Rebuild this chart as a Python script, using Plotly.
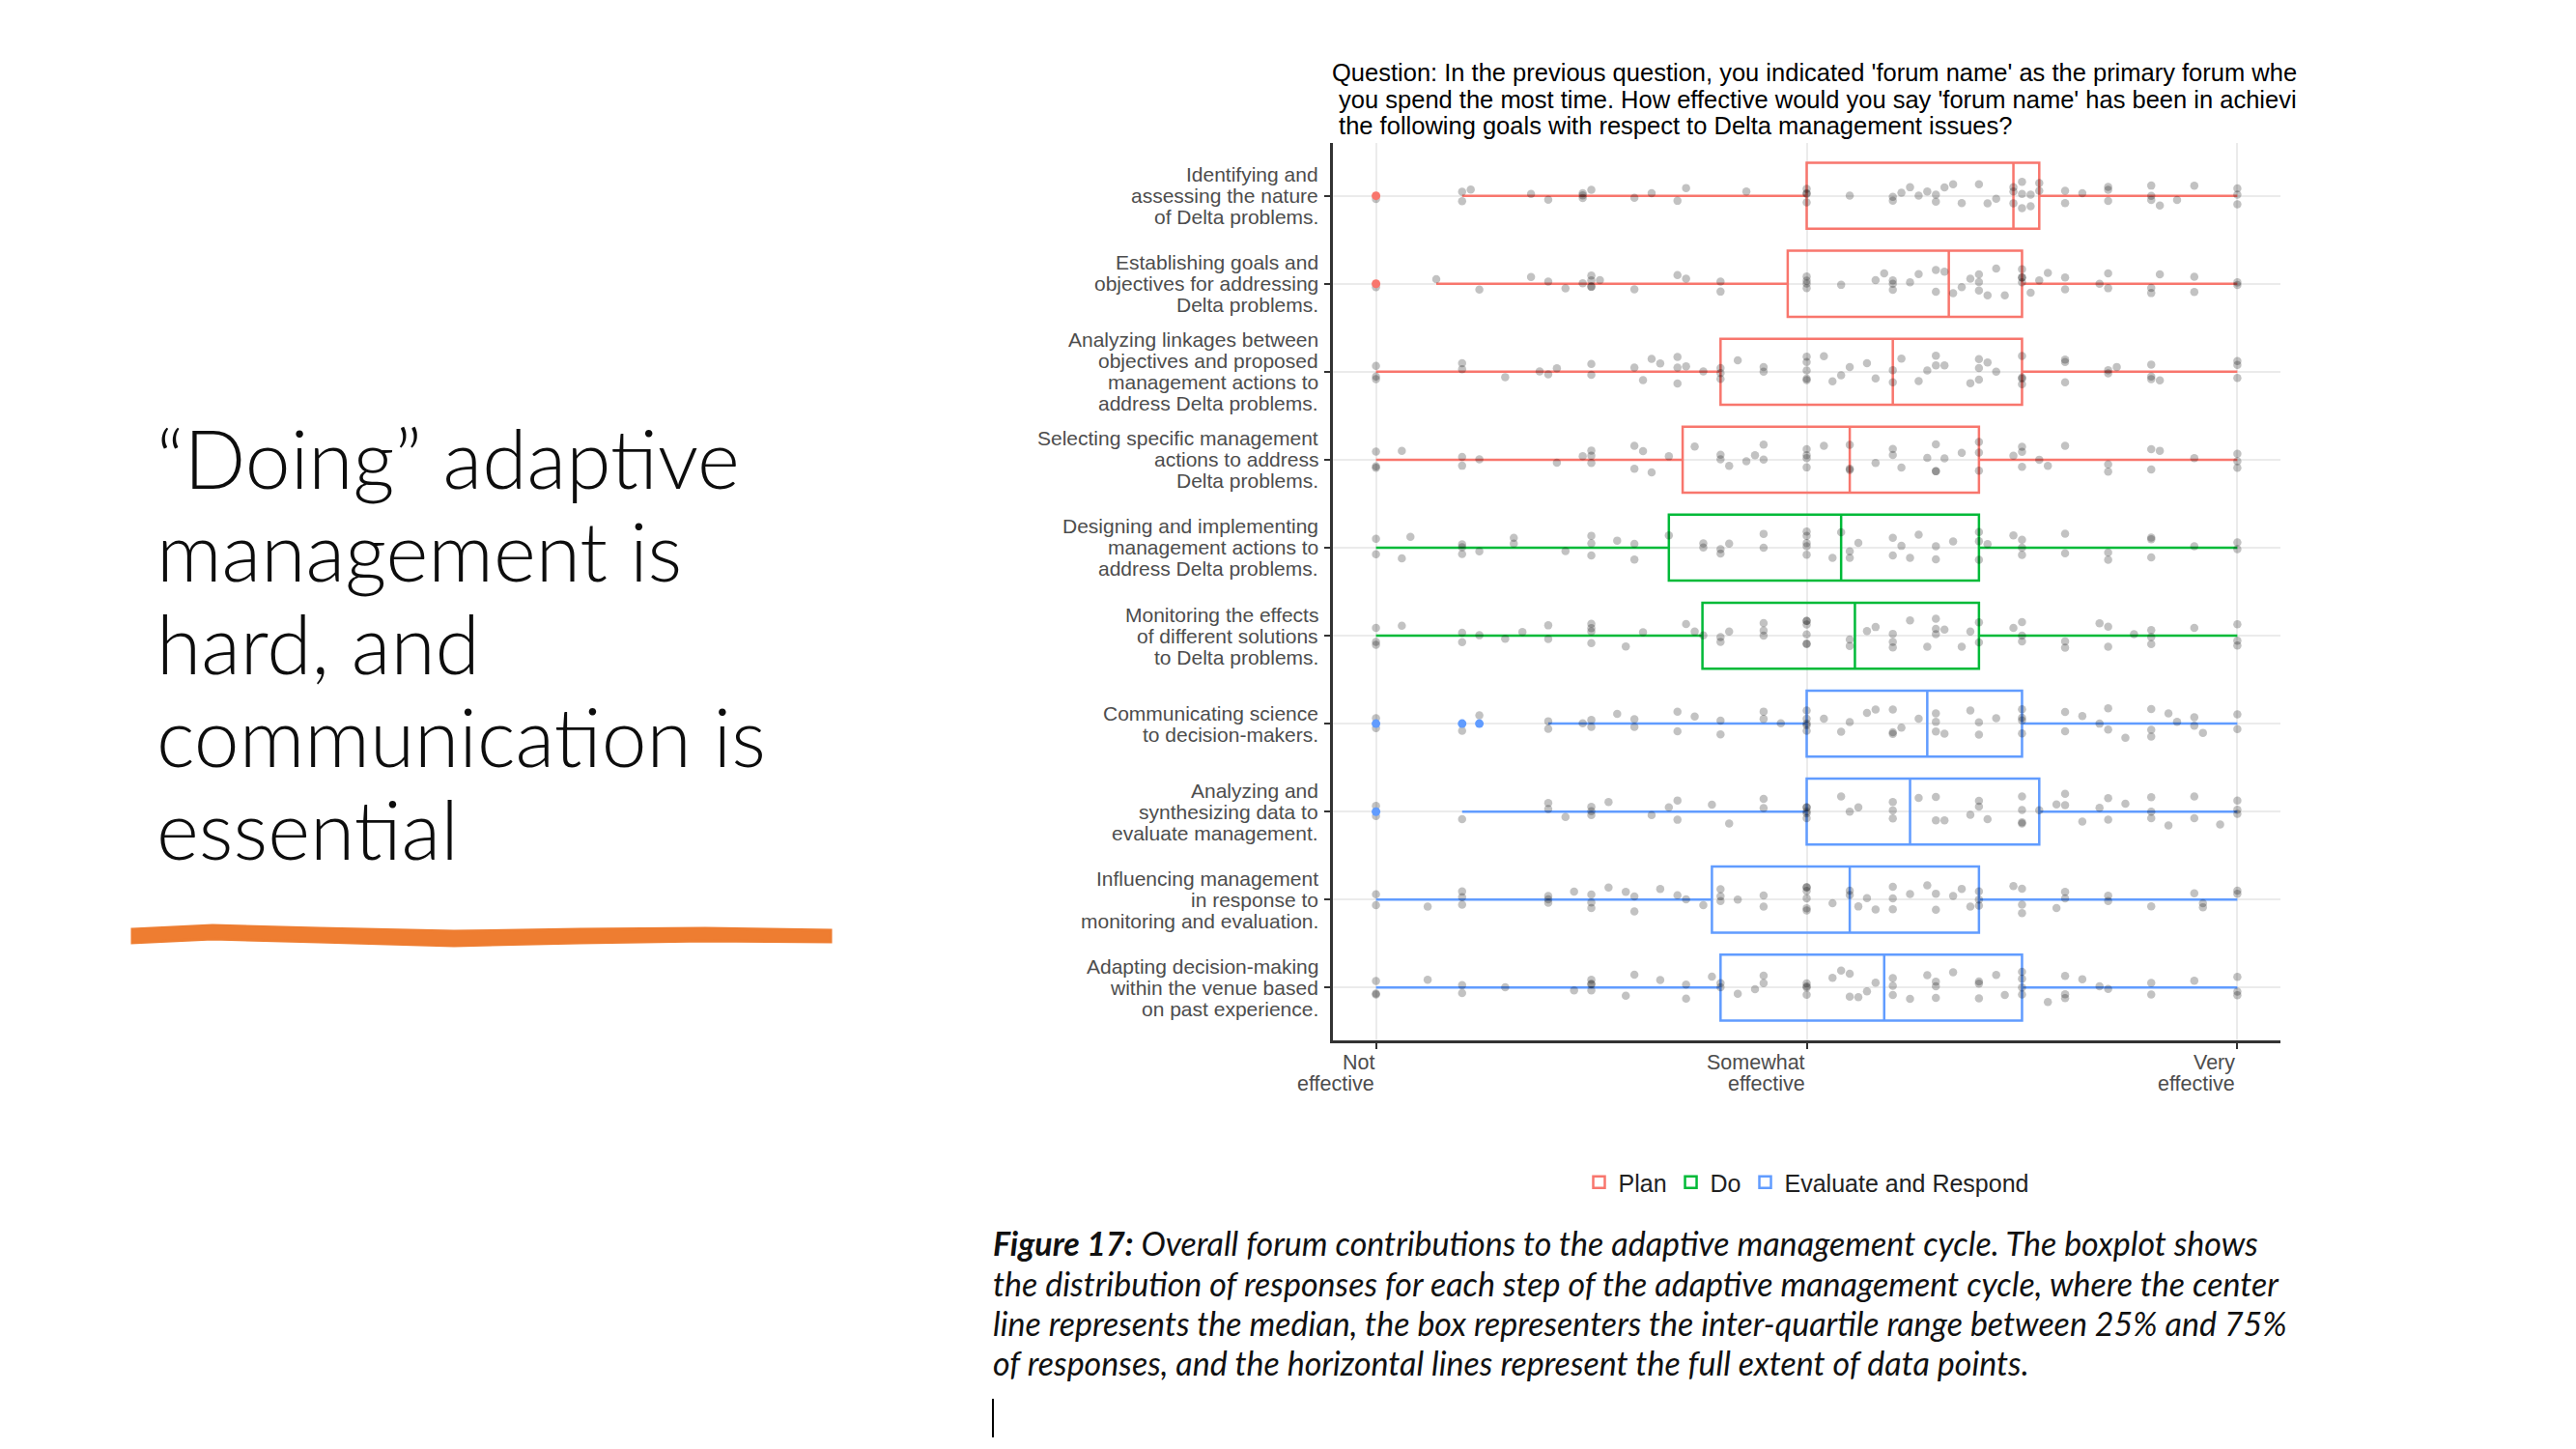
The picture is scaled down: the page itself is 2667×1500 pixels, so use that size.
import plotly.graph_objects as go

# categories, top to bottom
labels = [
    "Identifying and<br>assessing the nature<br>of Delta problems.",
    "Establishing goals and<br>objectives for addressing<br>Delta problems.",
    "Analyzing linkages between<br>objectives and proposed<br>management actions to<br>address Delta problems.",
    "Selecting specific management<br>actions to address<br>Delta problems.",
    "Designing and implementing<br>management actions to<br>address Delta problems.",
    "Monitoring the effects<br>of different solutions<br>to Delta problems.",
    "Communicating science<br>to decision-makers.",
    "Analyzing and<br>synthesizing data to<br>evaluate management.",
    "Influencing management<br>in response to<br>monitoring and evaluation.",
    "Adapting decision-making<br>within the venue based<br>on past experience.",
]
groups = ["Plan"] * 4 + ["Do"] * 2 + ["Evaluate and Respond"] * 4

# box statistics (0 = not effective, 50 = somewhat, 100 = very effective)
q1 = [50, 47.8, 40, 35.6, 34, 37.9, 50, 50, 39, 40]
median = [74, 66.5, 60, 55, 54, 55.6, 64, 62, 55, 59]
q3 = [77, 75, 75, 70, 70, 70, 75, 77, 70, 75]
lowerfence = [10, 7, 0, 0, 0, 0, 20, 10, 0, 0]
upperfence = [100, 100, 100, 100, 100, 100, 100, 100, 100, 100]

# outliers drawn by the boxplot
outlier_rows = [0, 1, 6, 6, 6, 7]
outlier_vals = [0, 0, 0, 10, 12, 0]

# individual responses (jittered points)
resp_identifying = [0, 10, 10, 11, 18, 20, 24, 24, 24, 25, 30, 32, 35, 36, 43, 50, 50, 50, 50, 55,
                    60, 60, 61, 62, 63, 64, 65, 65, 66, 67, 68, 70, 71, 72, 74, 74, 74, 75, 75, 75,
                    76, 76, 77, 77, 80, 80, 82, 85, 85, 85, 90, 90, 90, 91, 93, 95, 100, 100, 100]
resp_establishing = [0, 7, 12, 18, 20, 22, 24, 25, 25, 25, 25, 26, 30, 35, 36, 40, 40, 50, 50, 50,
                     50, 54, 58, 59, 60, 60, 60, 62, 63, 65, 65, 66, 67, 68, 69, 70, 70, 70, 71, 72,
                     73, 75, 75, 75, 75, 76, 77, 78, 80, 80, 84, 85, 85, 90, 90, 91, 95, 95, 100, 100]
resp_linkages = [0, 0, 0, 10, 10, 15, 19, 20, 21, 25, 25, 30, 31, 32, 33, 35, 35, 35, 36, 38,
                 40, 40, 40, 42, 45, 45, 50, 50, 50, 50, 50, 52, 53, 54, 55, 57, 58, 60, 60, 61,
                 63, 64, 65, 65, 66, 69, 70, 70, 70, 71, 72, 75, 75, 75, 75, 80, 80, 80, 85, 85,
                 86, 90, 90, 90, 91, 100, 100, 100]
resp_selecting = [0, 0, 0, 3, 10, 10, 12, 21, 24, 25, 25, 25, 30, 30, 31, 32, 34, 37, 40, 40,
                  41, 43, 44, 45, 45, 50, 50, 50, 50, 52, 55, 55, 55, 58, 60, 60, 61, 64, 65, 65,
                  65, 66, 68, 70, 70, 70, 74, 75, 75, 75, 77, 78, 80, 85, 85, 90, 90, 91, 95, 100,
                  100, 100]
resp_designing = [0, 0, 3, 4, 10, 10, 10, 12, 16, 16, 22, 25, 25, 25, 28, 30, 30, 34, 38, 38,
                  40, 40, 41, 45, 45, 50, 50, 50, 50, 50, 53, 54, 55, 55, 56, 60, 60, 61, 62, 63,
                  65, 65, 67, 70, 70, 70, 71, 74, 75, 75, 75, 80, 80, 85, 85, 90, 90, 90, 95, 100, 100]
resp_monitoring = [0, 0, 0, 3, 10, 10, 12, 15, 17, 20, 20, 25, 25, 25, 25, 29, 31, 36, 37, 38,
                   40, 40, 41, 45, 45, 45, 50, 50, 50, 50, 50, 50, 55, 55, 57, 58, 60, 60, 60, 62,
                   64, 65, 65, 65, 66, 68, 69, 70, 70, 74, 75, 75, 75, 80, 80, 84, 85, 85, 88, 90,
                   90, 90, 95, 100, 100, 100]
resp_communicating = [0, 0, 10, 12, 20, 20, 24, 25, 25, 28, 30, 30, 35, 35, 37, 40, 40, 45, 45, 47,
                      50, 50, 50, 50, 50, 52, 54, 55, 57, 58, 60, 60, 60, 61, 63, 65, 65, 65, 66, 69,
                      70, 70, 72, 75, 75, 75, 75, 80, 80, 82, 84, 85, 85, 87, 90, 90, 90, 92, 93, 95,
                      95, 96, 100, 100]
resp_synthesizing = [0, 0, 10, 20, 20, 22, 25, 25, 25, 27, 32, 34, 35, 35, 39, 41, 45, 45, 50, 50,
                     50, 50, 50, 54, 55, 56, 60, 60, 60, 63, 65, 65, 66, 69, 70, 70, 71, 75, 75, 75,
                     75, 77, 79, 80, 80, 82, 84, 85, 85, 87, 90, 90, 90, 92, 95, 95, 98, 100, 100, 100]
resp_influencing = [0, 0, 6, 10, 10, 10, 20, 20, 20, 23, 25, 25, 25, 27, 29, 30, 30, 33, 35, 36,
                    38, 40, 40, 40, 42, 45, 45, 50, 50, 50, 50, 50, 50, 53, 55, 55, 56, 57, 58, 60,
                    60, 60, 62, 64, 65, 65, 67, 68, 69, 70, 70, 70, 74, 75, 75, 75, 79, 80, 80, 85,
                    85, 90, 95, 96, 96, 100, 100]
resp_adapting = [0, 0, 0, 6, 10, 10, 15, 23, 25, 25, 25, 25, 29, 30, 33, 36, 36, 39, 40, 40,
                 42, 44, 45, 45, 50, 50, 50, 50, 53, 54, 55, 55, 56, 57, 58, 60, 60, 60, 62, 64,
                 65, 65, 65, 67, 70, 70, 70, 72, 73, 75, 75, 75, 75, 78, 80, 80, 80, 82, 84, 85,
                 90, 90, 95, 100, 100, 100]
responses = [resp_identifying, resp_establishing, resp_linkages, resp_selecting, resp_designing,
             resp_monitoring, resp_communicating, resp_synthesizing, resp_influencing, resp_adapting]

x_tickvals = [0, 50, 100]
x_ticklabels = ["Not<br>effective", "Somewhat<br>effective", "Very<br>effective"]

chart_title = [
    "Question: In the previous question, you indicated 'forum name' as the primary forum whe",
    "\u00a0you spend the most time. How effective would you say 'forum name' has been in achievi",
    "\u00a0the following goals with respect to Delta management issues?",
]
slide_title = ["\u201cDoing\u201d adaptive", "management is", "hard, and", "communication is", "essential"]
caption_lines = [
    "<b>Figure 17:</b> Overall forum contributions to the adaptive management cycle. The boxplot shows",
    "the distribution of responses for each step of the adaptive management cycle, where the center",
    "line represents the median, the box representers the inter-quartile range between 25% and 75%",
    "of responses, and the horizontal lines represent the full extent of data points.",
]

colors = {"Plan": "#F8766D", "Do": "#00BA38", "Evaluate and Respond": "#619CFF"}

W, H = 2667, 1500
PL, PR, PT, PB = 1380, 2361, 148, 1077   # plot area in pixels
AXFONT = "Liberation Sans, Arial"


def fx(px):
    return (px - PL) / (PR - PL)


def fy(py):
    return (PB - py) / (PB - PT)


fig = go.Figure()

seen = set()
for i, lab in enumerate(labels):
    g = groups[i]
    fig.add_trace(go.Box(
        orientation="h",
        y=[lab],
        q1=[q1[i]], median=[median[i]], q3=[q3[i]],
        lowerfence=[lowerfence[i]], upperfence=[upperfence[i]],
        width=0.75,
        whiskerwidth=0,
        line=dict(color=colors[g], width=2.5),
        fillcolor="rgba(255,255,255,0)",
        name=g,
        legendgroup=g,
        showlegend=g not in seen,
        hoverinfo="skip",
    ))
    seen.add(g)

# jittered raw responses
for i, lab in enumerate(labels):
    fig.add_trace(go.Box(
        orientation="h",
        x=responses[i],
        y=[lab] * len(responses[i]),
        boxpoints="all",
        jitter=0.55,
        pointpos=0,
        width=0.75,
        line=dict(color="rgba(0,0,0,0)", width=0),
        fillcolor="rgba(0,0,0,0)",
        marker=dict(color="rgba(0,0,0,0.24)", size=8.5),
        showlegend=False,
        hoveron="points",
    ))

# boxplot outliers
fig.add_trace(go.Scatter(
    x=outlier_vals,
    y=[labels[r] for r in outlier_rows],
    mode="markers",
    marker=dict(color=[colors[groups[r]] for r in outlier_rows], size=9),
    showlegend=False,
    hoverinfo="skip",
))

annotations = []
# chart title (clipped as in the source image)
title_y = [75, 103, 130]
for k, line in enumerate(chart_title):
    annotations.append(dict(
        text=line, xref="paper", yref="paper", x=fx(1377), y=fy(title_y[k]),
        xanchor="left", yanchor="middle", showarrow=False,
        font=dict(family=AXFONT, size=25.5, color="#000000"),
    ))

# y tick labels, one annotation per line for ggplot-like line spacing
LS = 22
for lab in labels:
    parts = lab.split("<br>")
    n = len(parts)
    for k, p in enumerate(parts):
        annotations.append(dict(
            text=p, xref="paper", yref="y", x=fx(1367), y=lab,
            yshift=((n - 1) / 2 - k) * LS,
            xanchor="right", yanchor="middle", showarrow=False,
            font=dict(family=AXFONT, size=21, color="#4D4D4D"),
        ))

# x tick labels, right-aligned to the tick
for v, t in zip(x_tickvals, x_ticklabels):
    for k, p in enumerate(t.split("<br>")):
        annotations.append(dict(
            text=p, xref="x", yref="paper", x=v, y=fy(1100 + k * LS),
            xanchor="right", yanchor="middle", showarrow=False,
            font=dict(family=AXFONT, size=21.5, color="#4D4D4D"),
        ))

# slide heading
head_y = [473, 569, 665, 761, 857]
for k, line in enumerate(slide_title):
    annotations.append(dict(
        text=line, xref="paper", yref="paper", x=fx(160), y=fy(head_y[k]),
        xanchor="left", yanchor="middle", showarrow=False,
        font=dict(family="Lato", size=84, color="#0d0d0d", weight=300),
    ))

# figure caption
cap_y = [1286, 1328, 1369, 1410]
for k, line in enumerate(caption_lines):
    annotations.append(dict(
        text=line, xref="paper", yref="paper", x=fx(1026), y=fy(cap_y[k]),
        xanchor="left", yanchor="middle", showarrow=False,
        font=dict(family="Lato", size=34, color="#111111", style="italic"),
    ))

# hand-drawn orange underline
top_edge = [(137, 962), (220, 958), (330, 961), (470, 964), (600, 962), (730, 961), (860, 963)]
bot_edge = [(860, 975), (730, 974), (600, 976), (470, 979), (330, 975), (220, 972), (137, 976)]
pts = top_edge + bot_edge
path = "M " + " L ".join(f"{fx(x):.5f},{fy(y):.5f}" for x, y in pts) + " Z"

shapes = [
    dict(type="path", path=path, xref="paper", yref="paper",
         fillcolor="#EE7D31", line=dict(color="#EE7D31", width=3)),
    # text cursor under the caption
    dict(type="line", xref="paper", yref="paper", x0=fx(1028), x1=fx(1028),
         y0=fy(1448), y1=fy(1488), line=dict(color="#000000", width=2)),
]

fig.update_layout(
    width=W, height=H,
    margin=dict(l=PL, r=W - PR, t=PT, b=H - PB, pad=0),
    paper_bgcolor="white",
    plot_bgcolor="white",
    boxmode="overlay",
    font=dict(family=AXFONT, color="#4D4D4D"),
    xaxis=dict(
        range=[-5, 105], tickvals=x_tickvals, showticklabels=False,
        ticks="outside", ticklen=6, tickwidth=2, tickcolor="#333333",
        showgrid=True, gridcolor="#EBEBEB", gridwidth=1.5, zeroline=False,
        showline=True, linecolor="#333333", linewidth=2.5,
    ),
    yaxis=dict(
        type="category", categoryorder="array", categoryarray=labels,
        range=[len(labels) - 0.4, -0.6], showticklabels=False,
        ticks="outside", ticklen=6, tickwidth=2, tickcolor="#333333",
        showgrid=True, gridcolor="#EBEBEB", gridwidth=2, zeroline=False,
        showline=True, linecolor="#333333", linewidth=2.5,
    ),
    legend=dict(
        orientation="h", x=0.5, xanchor="center", y=fy(1224), yanchor="middle",
        font=dict(family=AXFONT, size=25, color="#222222"),
        bgcolor="rgba(0,0,0,0)", itemwidth=30,
    ),
    annotations=annotations,
    shapes=shapes,
)

fig.write_html("out.html", config={"displayModeBar": False},
               post_script="document.body.style.margin='0';")
